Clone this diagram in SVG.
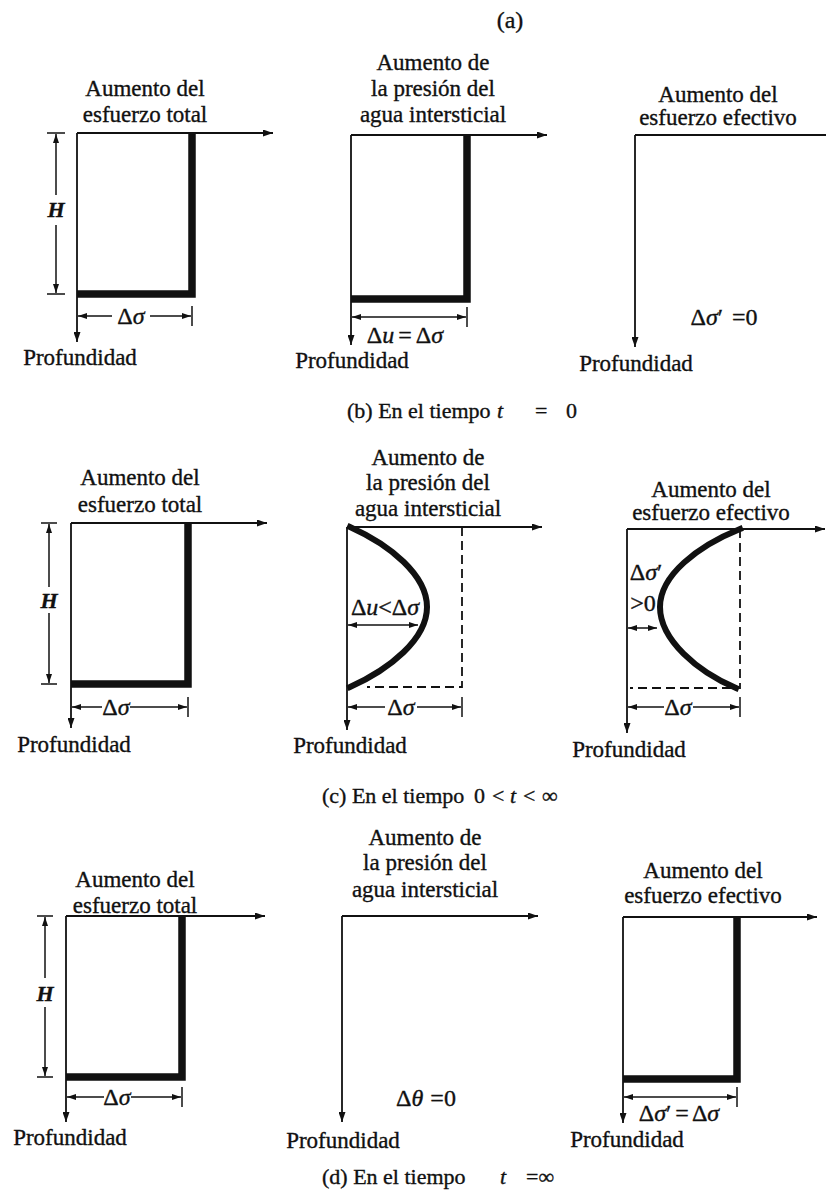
<svg xmlns="http://www.w3.org/2000/svg" width="826" height="1203" viewBox="0 0 826 1203">
<style>
text{font-family:"Liberation Serif","Times New Roman",serif;fill:#111;stroke:#111;stroke-width:0.35;font-size:23px}
.m{text-anchor:middle}
.i{font-style:italic}
.h{font-style:italic;font-weight:bold;font-size:22px}
.cap{font-size:22px}
.ax{stroke:#111;stroke-width:1.8;fill:none}
.dm{stroke:#111;stroke-width:1.5;fill:none}
.th{stroke:#111;stroke-width:7.5;fill:none;stroke-linejoin:miter}
.cv{stroke:#111;stroke-width:6;fill:none;stroke-linecap:square}
.ds{stroke:#111;stroke-width:1.8;fill:none;stroke-dasharray:9,5}
.mt{font-size:24px}
</style>
<defs>
<marker id="ar" viewBox="0 0 10 7" refX="10" refY="3.5" markerWidth="10" markerHeight="7" markerUnits="userSpaceOnUse" orient="auto-start-reverse"><path d="M0,0 L10,3.5 L0,7 z" fill="#111"/></marker>
<marker id="ds" viewBox="0 0 9 6" refX="9" refY="3" markerWidth="9" markerHeight="6" markerUnits="userSpaceOnUse" orient="auto-start-reverse"><path d="M0,0 L9,3 L0,6 z" fill="#111"/></marker>
</defs>
<rect width="826" height="1203" fill="#fff"/>

<text x="510" y="28" class="m" style="font-size:24px">(a)</text>

<!-- Row b -->
<g id="b1">
<text x="145" y="96" class="m">Aumento del</text>
<text x="145" y="122" class="m">esfuerzo total</text>
<polyline class="th" points="77,294 192,294 192,133"/>
<text x="56" y="217" class="m h">H</text>
<text x="131" y="324" class="m mt">Δ<tspan class="i">σ</tspan></text>
<text x="80" y="365" class="m">Profundidad</text>
</g>
<g id="b2">
<text x="433" y="70" class="m">Aumento de</text>
<text x="433" y="96" class="m">la presión del</text>
<text x="433" y="122" class="m">agua intersticial</text>
<polyline class="th" points="351,299 467,299 467,135"/>
<text x="405" y="343" class="m mt">Δ<tspan class="i">u</tspan><tspan dx="4">=</tspan><tspan dx="4">Δ</tspan><tspan class="i">σ</tspan></text>
<text x="352" y="368" class="m">Profundidad</text>
</g>
<g id="b3">
<text x="718" y="102" class="m">Aumento del</text>
<text x="718" y="125" class="m">esfuerzo efectivo</text>
<text x="724" y="325" class="m mt">Δ<tspan class="i">σ</tspan>′<tspan dx="9">=0</tspan></text>
<text x="636" y="371" class="m">Profundidad</text>
</g>
<g id="cap-b">
<text x="347" y="418" class="cap">(b) En el tiempo</text>
<text x="497" y="418" class="cap i">t</text>
<text x="535" y="418" class="cap">=</text>
<text x="566" y="418" class="cap">0</text>
</g>

<!-- Row c -->
<g id="c1">
<text x="140" y="485" class="m">Aumento del</text>
<text x="140" y="512" class="m">esfuerzo total</text>
<polyline class="th" points="71,684 188,684 188,523"/>
<text x="49" y="608" class="m h">H</text>
<text x="116" y="715" class="m mt">Δ<tspan class="i">σ</tspan></text>
<text x="74" y="752" class="m">Profundidad</text>
</g>
<g id="c2">
<text x="428" y="465" class="m">Aumento de</text>
<text x="428" y="490" class="m">la presión del</text>
<text x="428" y="516" class="m">agua intersticial</text>
<polyline class="ds" points="462,527 462,687 367,687"/>
<path class="cv" d="M350,527 C390,545 427,575 427,607 C427,639 390,669 350,687"/>
<text x="385" y="615" class="m mt">Δ<tspan class="i">u</tspan>&lt;Δ<tspan class="i">σ</tspan></text>
<text x="401" y="715" class="m mt">Δ<tspan class="i">σ</tspan></text>
<text x="350" y="753" class="m">Profundidad</text>
</g>
<g id="c3">
<text x="711" y="497" class="m">Aumento del</text>
<text x="711" y="520" class="m">esfuerzo efectivo</text>
<polyline class="ds" points="740,529 740,688 630,688"/>
<path class="cv" d="M740,529 C698,546 660,575 660,607 C660,640 698,672 736,688"/>
<text x="646" y="580" class="m mt">Δ<tspan class="i">σ</tspan>′</text>
<text x="643" y="611" class="m mt">&gt;0</text>
<text x="678" y="715" class="m mt">Δ<tspan class="i">σ</tspan></text>
<text x="629" y="757" class="m">Profundidad</text>
</g>
<g id="cap-c">
<text x="322" y="803" class="cap">(c) En el tiempo</text>
<text x="474" y="803" class="cap">0</text>
<text x="492" y="803" class="cap">&lt;</text>
<text x="510" y="803" class="cap i">t</text>
<text x="523" y="803" class="cap">&lt;</text>
<text x="542" y="803" class="cap">∞</text>
</g>

<!-- Row d -->
<g id="d1">
<text x="135" y="887" class="m">Aumento del</text>
<text x="135" y="913" class="m">esfuerzo total</text>
<polyline class="th" points="66,1077 182,1077 182,916"/>
<text x="45" y="1001" class="m h">H</text>
<text x="117" y="1105" class="m mt">Δ<tspan class="i">σ</tspan></text>
<text x="70" y="1145" class="m">Profundidad</text>
</g>
<g id="d2">
<text x="425" y="845" class="m">Aumento de</text>
<text x="425" y="870" class="m">la presión del</text>
<text x="425" y="897" class="m">agua intersticial</text>
<text x="426" y="1106" class="m mt">Δ<tspan class="i">θ</tspan><tspan dx="7">=0</tspan></text>
<text x="343" y="1148" class="m">Profundidad</text>
</g>
<g id="d3">
<text x="703" y="878" class="m">Aumento del</text>
<text x="703" y="903" class="m">esfuerzo efectivo</text>
<polyline class="th" points="623,1079 737,1079 737,917"/>
<text x="679" y="1121" class="m mt">Δ<tspan class="i">σ</tspan>′<tspan dx="4">=</tspan><tspan dx="3">Δ</tspan><tspan class="i">σ</tspan></text>
<text x="627" y="1147" class="m">Profundidad</text>
</g>
<g id="cap-d">
<text x="322" y="1184" class="cap">(d) En el tiempo</text>
<text x="500" y="1184" class="cap i">t</text>
<text x="526" y="1184" class="cap">=∞</text>
</g>

<g id="connectors">
<!-- b1 -->
<line class="ax" x1="77" y1="133" x2="273" y2="133" marker-end="url(#ar)"/>
<line class="ax" x1="77" y1="133" x2="77" y2="342" marker-end="url(#ar)"/>
<line class="dm" x1="56" y1="195" x2="56" y2="134" marker-end="url(#ds)"/>
<line class="dm" x1="56" y1="225" x2="56" y2="293" marker-end="url(#ds)"/>
<line class="dm" x1="47" y1="133" x2="65" y2="133"/>
<line class="dm" x1="47" y1="294" x2="65" y2="294"/>
<line class="dm" x1="112" y1="316" x2="78" y2="316" marker-end="url(#ds)"/>
<line class="dm" x1="150" y1="316" x2="191" y2="316" marker-end="url(#ds)"/>
<line class="dm" x1="192" y1="306" x2="192" y2="326"/>
<!-- b2 -->
<line class="ax" x1="351" y1="135" x2="547" y2="135" marker-end="url(#ar)"/>
<line class="ax" x1="351" y1="135" x2="351" y2="345" marker-end="url(#ar)"/>
<line class="dm" x1="352" y1="317" x2="466" y2="317" marker-start="url(#ds)" marker-end="url(#ds)"/>
<line class="dm" x1="467" y1="307" x2="467" y2="327"/>
<!-- b3 -->
<line class="ax" x1="635" y1="135" x2="826" y2="135"/>
<line class="ax" x1="635" y1="135" x2="635" y2="347" marker-end="url(#ar)"/>
<!-- c1 -->
<line class="ax" x1="71" y1="523" x2="267" y2="523" marker-end="url(#ar)"/>
<line class="ax" x1="71" y1="523" x2="71" y2="728" marker-end="url(#ar)"/>
<line class="dm" x1="49" y1="587" x2="49" y2="524" marker-end="url(#ds)"/>
<line class="dm" x1="49" y1="613" x2="49" y2="683" marker-end="url(#ds)"/>
<line class="dm" x1="41" y1="523" x2="57" y2="523"/>
<line class="dm" x1="41" y1="684" x2="57" y2="684"/>
<line class="dm" x1="102" y1="707" x2="72" y2="707" marker-end="url(#ds)"/>
<line class="dm" x1="130" y1="707" x2="187" y2="707" marker-end="url(#ds)"/>
<line class="dm" x1="188" y1="697" x2="188" y2="717"/>
<!-- c2 -->
<line class="ax" x1="347" y1="527" x2="542" y2="527" marker-end="url(#ar)"/>
<line class="ax" x1="347" y1="527" x2="347" y2="730" marker-end="url(#ar)"/>
<line class="dm" x1="348" y1="625" x2="418" y2="625" marker-start="url(#ds)" marker-end="url(#ds)"/>
<line class="dm" x1="385" y1="707" x2="348" y2="707" marker-end="url(#ds)"/>
<line class="dm" x1="417" y1="707" x2="461" y2="707" marker-end="url(#ds)"/>
<line class="dm" x1="462" y1="697" x2="462" y2="717"/>
<!-- c3 -->
<line class="ax" x1="627" y1="529" x2="825" y2="529" marker-end="url(#ar)"/>
<line class="ax" x1="627" y1="529" x2="627" y2="733" marker-end="url(#ar)"/>
<line class="dm" x1="628" y1="628" x2="657" y2="628" marker-start="url(#ds)" marker-end="url(#ds)"/>
<line class="dm" x1="664" y1="707" x2="628" y2="707" marker-end="url(#ds)"/>
<line class="dm" x1="693" y1="707" x2="739" y2="707" marker-end="url(#ds)"/>
<line class="dm" x1="740" y1="697" x2="740" y2="717"/>
<!-- d1 -->
<line class="ax" x1="66" y1="916" x2="265" y2="916" marker-end="url(#ar)"/>
<line class="ax" x1="66" y1="916" x2="66" y2="1122" marker-end="url(#ar)"/>
<line class="dm" x1="45" y1="978" x2="45" y2="917" marker-end="url(#ds)"/>
<line class="dm" x1="45" y1="1007" x2="45" y2="1076" marker-end="url(#ds)"/>
<line class="dm" x1="37" y1="916" x2="53" y2="916"/>
<line class="dm" x1="37" y1="1077" x2="53" y2="1077"/>
<line class="dm" x1="104" y1="1097" x2="67" y2="1097" marker-end="url(#ds)"/>
<line class="dm" x1="131" y1="1097" x2="181" y2="1097" marker-end="url(#ds)"/>
<line class="dm" x1="182" y1="1087" x2="182" y2="1107"/>
<!-- d2 -->
<line class="ax" x1="342" y1="916" x2="538" y2="916" marker-end="url(#ar)"/>
<line class="ax" x1="342" y1="916" x2="342" y2="1122" marker-end="url(#ar)"/>
<!-- d3 -->
<line class="ax" x1="623" y1="917" x2="817" y2="917" marker-end="url(#ar)"/>
<line class="ax" x1="623" y1="917" x2="623" y2="1123" marker-end="url(#ar)"/>
<line class="dm" x1="624" y1="1097" x2="736" y2="1097" marker-start="url(#ds)" marker-end="url(#ds)"/>
<line class="dm" x1="737" y1="1087" x2="737" y2="1107"/>
</g>
</svg>
